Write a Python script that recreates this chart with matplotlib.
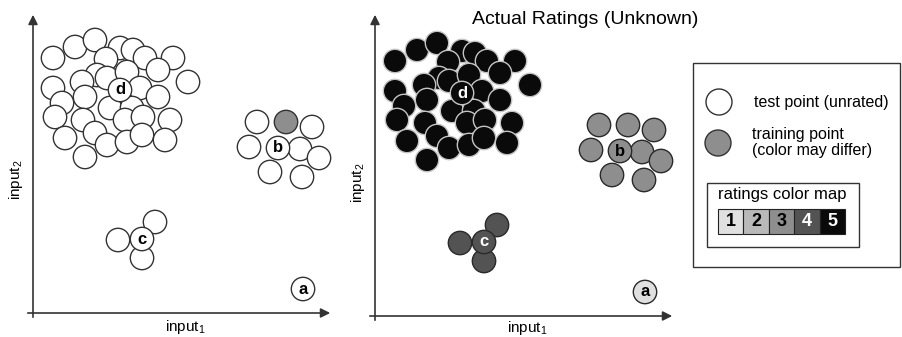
import matplotlib.pyplot as plt
from matplotlib.patches import Circle, Rectangle

plt.rcParams['font.family'] = ['Liberation Sans', 'DejaVu Sans']
plt.rcParams['mathtext.default'] = 'regular'

# Point positions (left panel, pixel units); right panel is the same layout shifted
d_x = [53, 75, 95, 120, 133, 145, 173, 106, 158, 188, 53, 62, 97, 82, 107, 127, 140, 158, 85,
       55, 83, 110, 132, 125, 143, 170, 65, 95, 107, 127, 142, 165, 85]
d_y = [58, 47, 40, 48, 50, 58, 58, 59, 70, 82, 88, 103, 75, 82, 78, 72, 88, 97, 97,
       117, 120, 108, 108, 120, 117, 120, 138, 133, 145, 142, 135, 140, 157]
b_x = [257, 312, 249, 300, 319, 270, 302]
b_y = [122, 127, 147, 149, 158, 172, 177]
b_train = (286, 122)
c_x = [155, 118, 142]
c_y = [222, 240, 258]
labels = ['d', 'b', 'c', 'a']
label_pos = [(120, 90), (278, 148), (142, 239), (303, 289)]

rating_levels = [1, 2, 3, 4, 5]
rating_colors = ['#e0e0e0', '#b9b9b9', '#8e8e8e', '#535353', '#0a0a0a']
# actual ratings per cluster (right panel)
cluster_rating = {'d': 5, 'b': 3, 'c': 4, 'a': 1}

R = 11.7
offset = (342, 3)

fig = plt.figure(figsize=(9.02, 3.37), dpi=100)
ax = fig.add_axes([0, 0, 1, 1])
ax.set_xlim(0, 902)
ax.set_ylim(337, 0)
ax.axis('off')


def dot(x, y, face, edge, z=2, r=R):
    ax.add_patch(Circle((x, y), r, facecolor=face, edgecolor=edge, lw=1.0, zorder=z))


for panel in range(2):
    dx, dy = (0, 0) if panel == 0 else offset
    # axes arrows
    ax.annotate('', xy=(33 + dx, 12), xytext=(33 + dx, 320 + dy),
                arrowprops=dict(arrowstyle='-|>', color='#333333', lw=1.2, mutation_scale=14))
    ax.annotate('', xy=(333 + dx, 313 + dy), xytext=(25 + dx, 313 + dy),
                arrowprops=dict(arrowstyle='-|>', color='#333333', lw=1.2, mutation_scale=14))
    ax.text(185 + dx, 327 + dy * 0.3, r'input$_1$', ha='center', va='center', fontsize=11)
    ax.text(16 + dx, 180 + dy, r'input$_2$', ha='center', va='center', fontsize=11, rotation=90)

    clusters = [('d', d_x, d_y), ('b', b_x, b_y), ('c', c_x, c_y)]
    for name, xs, ys in clusters:
        if panel == 0:
            face, edge = 'white', '#333333'
        else:
            face = rating_colors[cluster_rating[name] - 1]
            edge = '#c4c4c4' if name == 'd' else '#2a2a2a'
        for x, y in zip(xs, ys):
            dot(x + dx, y + dy, face, edge)
        if name == 'b':
            if panel == 0:
                dot(b_train[0], b_train[1], '#8e8e8e', '#333333')
            else:
                dot(b_train[0] + dx, b_train[1] + dy, face, edge)

    for lab, (x, y) in zip(labels, label_pos):
        r = cluster_rating[lab]
        if panel == 0:
            face, edge, tc = 'white', '#333333', 'black'
        else:
            face = rating_colors[r - 1]
            edge = '#c4c4c4' if lab == 'd' else '#2a2a2a'
            tc = 'white' if r >= 4 else 'black'
        dot(x + dx, y + dy, face, edge, z=3)
        ax.text(x + dx, y + dy, lab, ha='center', va='center', fontsize=12,
                fontweight='bold', color=tc, zorder=4)

ax.text(585, 20, 'Actual Ratings (Unknown)', ha='center', va='center', fontsize=14)

# legend
ax.add_patch(Rectangle((693, 63), 207, 204, facecolor='white', edgecolor='#333333', lw=1.0))
dot(719, 102, 'white', '#333333', r=13)
ax.text(754, 102, 'test point (unrated)', ha='left', va='center', fontsize=11.5)
dot(718, 143, '#8e8e8e', '#333333', r=13)
ax.text(752, 135, 'training point', ha='left', va='center', fontsize=11.5)
ax.text(752, 151, '(color may differ)', ha='left', va='center', fontsize=11.5)
ax.add_patch(Rectangle((707, 183), 152, 64, facecolor='white', edgecolor='#333333', lw=1.0))
ax.text(718, 195, 'ratings color map', ha='left', va='center', fontsize=12)
cw = 25.4
for i, (lvl, col) in enumerate(zip(rating_levels, rating_colors)):
    x0 = 718 + i * cw
    ax.add_patch(Rectangle((x0, 209), cw, 25, facecolor=col, edgecolor='#222222', lw=0.8))
    ax.text(x0 + cw / 2, 222, str(lvl), ha='center', va='center', fontsize=13,
            fontweight='bold', color='white' if lvl >= 4 else 'black')

fig.savefig('out.png', dpi=100)
